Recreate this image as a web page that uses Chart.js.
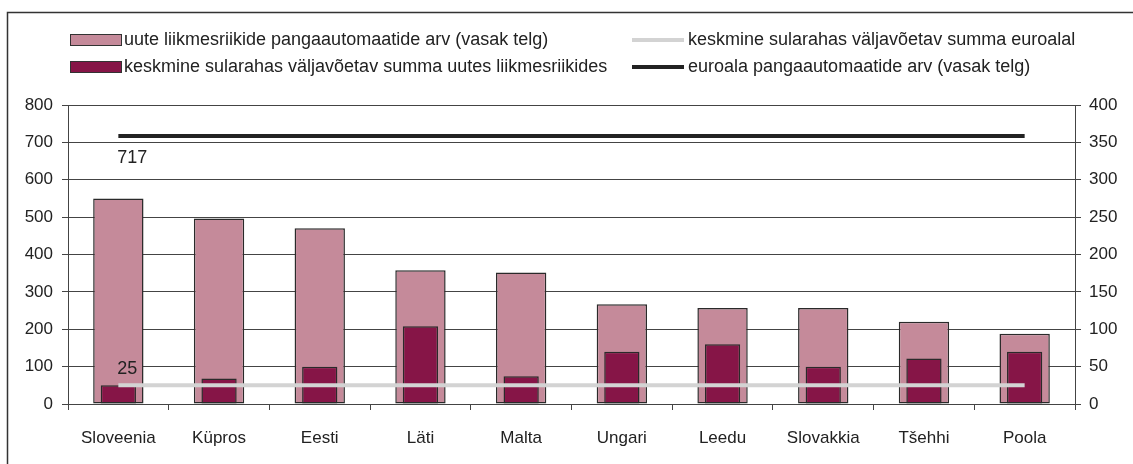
<!DOCTYPE html>
<html>
<head>
<meta charset="utf-8">
<script src="https://cdn.jsdelivr.net/npm/chart.js@4.4.0/dist/chart.umd.min.js"></script>
<style>
  html, body { margin: 0; padding: 0; background: #fff; overflow: hidden; }
  #wrap { width: 1133px; height: 464px; position: relative; }
</style>
</head>
<body>
<div id="wrap"><canvas id="graf" width="1133" height="464"></canvas></div>
<script>
// Andmed
const riigid = ['Sloveenia', 'Küpros', 'Eesti', 'Läti', 'Malta', 'Ungari', 'Leedu', 'Slovakkia', 'Tšehhi', 'Poola'];
const automaadidUued = [550, 496, 470, 358, 352, 267, 257, 257, 220, 188];
const summaUued = [25, 34, 50, 104, 37, 70, 80, 50, 61, 70];
const summaEuroala = [25, 25, 25, 25, 25, 25, 25, 25, 25, 25];
const automaadidEuroala = [717, 717, 717, 717, 717, 717, 717, 717, 717, 717];
const vasakTicks = [0, 100, 200, 300, 400, 500, 600, 700, 800];
const paremTicks = [0, 50, 100, 150, 200, 250, 300, 350, 400];

const FONT = "'Liberation Sans', Arial, sans-serif";
const FSIZE = 17;
const LSIZE = 18;
const TEKST = '#222';
const JOON = '#444';

// Raam ümber kogu joonise
const raam = {
  id: 'raam',
  beforeDraw(chart) {
    const c = chart.ctx;
    c.save();
    c.strokeStyle = '#333'; c.lineWidth = 1.5;
    c.strokeRect(7.5, 12.5, 1300, 600);
    c.restore();
  }
};

// Kahe veeruga legend
const legend2 = {
  id: 'legend2',
  afterDraw(chart) {
    const c = chart.ctx;
    const ds = chart.data.datasets;
    const kohad = [
      { i: 0, x: 70, y: 40 },
      { i: 1, x: 70, y: 67 },
      { i: 2, x: 632, y: 40 },
      { i: 3, x: 632, y: 67 }
    ];
    c.save();
    c.font = LSIZE + 'px ' + FONT;
    c.textBaseline = 'middle';
    kohad.forEach(k => {
      const d = ds[k.i];
      if (d.type === 'line') {
        c.strokeStyle = d.borderColor; c.lineWidth = 4;
        c.beginPath(); c.moveTo(k.x, k.y); c.lineTo(k.x + 52, k.y); c.stroke();
        c.fillStyle = TEKST; c.fillText(d.label, k.x + 56, k.y);
      } else {
        c.fillStyle = d.backgroundColor;
        c.fillRect(k.x, k.y - 6, 52, 12);
        c.strokeStyle = '#333'; c.lineWidth = 1;
        c.strokeRect(k.x + 0.5, k.y - 5.5, 51, 11);
        c.fillStyle = TEKST; c.fillText(d.label, k.x + 54, k.y);
      }
    });
    c.restore();
  }
};

// Väärtuse silt esimese punkti juures
const sildid = {
  id: 'sildid',
  afterDatasetsDraw(chart) {
    const c = chart.ctx;
    c.save();
    c.font = LSIZE + 'px ' + FONT;
    c.fillStyle = TEKST;
    c.textAlign = 'left';
    c.textBaseline = 'middle';
    chart.data.datasets.forEach((d, i) => {
      if (!d.silt) return;
      const p = chart.getDatasetMeta(i).data[0];
      c.fillText(String(d.data[0]), p.x - 1, p.y + d.silt);
    });
    c.restore();
  }
};

new Chart(document.getElementById('graf'), {
  data: {
    labels: riigid,
    datasets: [
      { type: 'bar', label: 'uute liikmesriikide pangaautomaatide arv (vasak telg)', data: automaadidUued,
        backgroundColor: '#C58A9A', borderColor: '#2a2a2a', borderWidth: 1.5, borderSkipped: false, yAxisID: 'y',
        barPercentage: 0.5, categoryPercentage: 1, grouped: false, order: 3 },
      { type: 'bar', label: 'keskmine sularahas väljavõetav summa uutes liikmesriikides', data: summaUued,
        backgroundColor: '#861547', borderColor: '#2a2a2a', borderWidth: 1.5, borderSkipped: false, yAxisID: 'y1',
        barPercentage: 0.35, categoryPercentage: 1, grouped: false, order: 2 },
      { type: 'line', label: 'keskmine sularahas väljavõetav summa euroalal', data: summaEuroala,
        borderColor: '#D3D3D3', borderWidth: 4, pointRadius: 0, yAxisID: 'y1', order: 1, silt: -16 },
      { type: 'line', label: 'euroala pangaautomaatide arv (vasak telg)', data: automaadidEuroala,
        borderColor: '#222', borderWidth: 4, pointRadius: 0, yAxisID: 'y', order: 0, silt: 22 }
    ]
  },
  options: {
    responsive: false,
    animation: false,
    devicePixelRatio: 1,
    layout: { padding: { top: 105, left: 0, right: 0, bottom: 0 } },
    plugins: { legend: { display: false }, tooltip: { enabled: false } },
    scales: {
      x: {
        offset: true,
        grid: { offset: true, drawOnChartArea: false, color: JOON, tickLength: 6 },
        border: { color: JOON, width: 1 },
        ticks: { color: TEKST, font: { family: FONT, size: FSIZE }, padding: 18, maxRotation: 0, autoSkip: false },
        afterFit(s) { s.height = 60; }
      },
      y: {
        position: 'left', min: 0, max: 800,
        afterBuildTicks(s) { s.ticks = vasakTicks.map(v => ({ value: v })); },
        grid: { color: JOON, lineWidth: 1, tickLength: 6 },
        border: { color: JOON, width: 1 },
        ticks: { color: TEKST, font: { family: FONT, size: FSIZE }, padding: 9 },
        afterFit(s) { s.width = 68; }
      },
      y1: {
        position: 'right', min: 0, max: 400,
        afterBuildTicks(s) { s.ticks = paremTicks.map(v => ({ value: v })); },
        grid: { drawOnChartArea: false, color: JOON, tickLength: 6 },
        border: { color: JOON, width: 1 },
        ticks: { color: TEKST, font: { family: FONT, size: FSIZE }, padding: 8 },
        afterFit(s) { s.width = 58; }
      }
    }
  },
  plugins: [raam, legend2, sildid]
});
</script>
</body>
</html>
